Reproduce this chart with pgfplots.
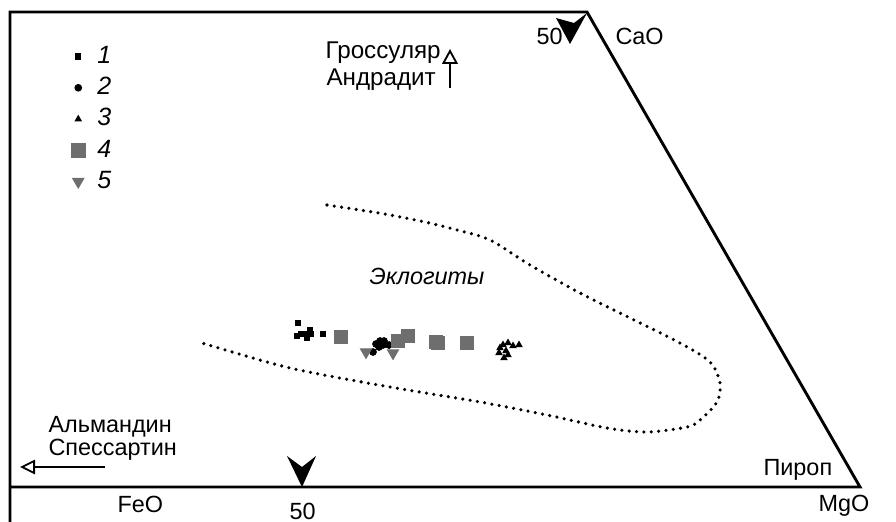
\documentclass[border=0pt]{standalone}
\usepackage{pgfplots}
\pgfplotsset{compat=1.18}
\usepackage{fontspec}
\setmainfont{Liberation Sans}
\usetikzlibrary{arrows.meta}
\definecolor{gmark}{gray}{0.43}
% 1 px of the reference = 0.38pt
\newcommand{\lbl}{\fontsize{8.9}{10}\selectfont}
\newcommand{\toplbl}{\fontsize{9.2}{11}\selectfont}
\begin{document}
\begin{tikzpicture}
\begin{axis}[
  scale only axis, width=340.48pt, height=198.36pt,
  xmin=0, xmax=896, ymin=0, ymax=522, y dir=reverse,
  axis lines=none, clip=false,
  legend cell align=left,
  legend style={draw=none, fill=none, at={(axis cs:63,37)}, anchor=north west,
    font=\itshape\fontsize{9.5}{10}\selectfont, row sep=1.4pt, column sep=3.5pt,
    nodes={inner sep=1.2pt}},
]
% ternary frame
\addplot[black, line width=1.1pt, forget plot] coordinates {(10,522) (10,12) (587,12) (860,487) (10,487)};

% eclogite field
\addplot[black, line width=1.35pt, line cap=round, dash pattern=on 0pt off 2.8pt, smooth, forget plot]
  coordinates {(327,205) (360,210) (390,215) (425,222) (457,230) (490,240) (530,265) (580,293)
    (630,318) (680,343) (710,362) (720,383) (717,402) (700,420) (687,427) (647,432) (607,428)
    (547,415) (480,402) (390,387) (290,368) (202,343)};

% 1
\addplot[only marks, mark=square*, mark size=1pt, black]
  coordinates {(298,323) (297,336) (301,334) (305,334) (310,330) (311,334) (307,338) (323,334)};
\addlegendentry{1}
% 2
\addplot[only marks, mark=*, mark size=1.25pt, black]
  coordinates {(373,352) (376,344) (380,341) (383,345) (379,347) (389,345) (384,341)};
\addlegendentry{2}
% 3
\addplot[only marks, mark=triangle*, mark size=1.3pt, black]
  coordinates {(500,348) (503,345) (508,343) (513,346) (519,345) (499,353) (506,351) (508,355) (504,358)};
\addlegendentry{3}
% 4
\addplot[only marks, mark=square*, mark size=2.6pt, gmark, mark options={draw=gmark, fill=gmark}]
  coordinates {(341,337) (398,341) (408,336) (436,342) (438,343) (467,343)};
\addlegendentry{4}
% 5
\addplot[only marks, mark=triangle*, mark size=2.4pt, gmark, mark options={rotate=180, draw=gmark, fill=gmark}]
  coordinates {(366,352) (393,353)};
\addlegendentry{5}

% 50% ticks
\fill[black] (axis cs:302,487) -- (axis cs:287,456) -- (axis cs:302,467) -- (axis cs:316,456) -- cycle;
\fill[black] (axis cs:570,44) -- (axis cs:556,18) -- (axis cs:574,23) -- (axis cs:587,13) -- cycle;

% arrows
\draw[black, line width=0.7pt, -{Triangle[open, length=5.7pt, width=6pt]}] (axis cs:450,88) -- (axis cs:450,49);
\draw[black, line width=0.7pt, -{Triangle[open, length=5.7pt, width=5.5pt]}] (axis cs:105,467) -- (axis cs:20,467);

% labels
\node[anchor=base west, inner sep=0pt, font=\toplbl] at (axis cs:325,59) {Гроссуляр};
\node[anchor=base west, inner sep=0pt, font=\toplbl] at (axis cs:326,86) {Андрадит};
\node[anchor=base west, inner sep=0pt, font=\lbl] at (axis cs:48,432) {Альмандин};
\node[anchor=base west, inner sep=0pt, font=\lbl] at (axis cs:48,455) {Спессартин};
\node[anchor=base west, inner sep=0pt, font=\lbl] at (axis cs:536,45) {50};
\node[anchor=base west, inner sep=0pt, font=\lbl] at (axis cs:615,45) {CaO};
\node[anchor=base west, inner sep=0pt, font=\lbl\itshape] at (axis cs:369,284) {Эклогиты};
\node[anchor=base west, inner sep=0pt, font=\lbl] at (axis cs:117,512) {FeO};
\node[anchor=base west, inner sep=0pt, font=\lbl] at (axis cs:289,519) {50};
\node[anchor=base west, inner sep=0pt, font=\lbl] at (axis cs:763,475) {Пироп};
\node[anchor=base west, inner sep=0pt, font=\lbl] at (axis cs:818,511) {MgO};
\end{axis}
\pgfresetboundingbox
\path (0,0) rectangle (340.48pt,198.36pt);
\end{tikzpicture}
\end{document}
